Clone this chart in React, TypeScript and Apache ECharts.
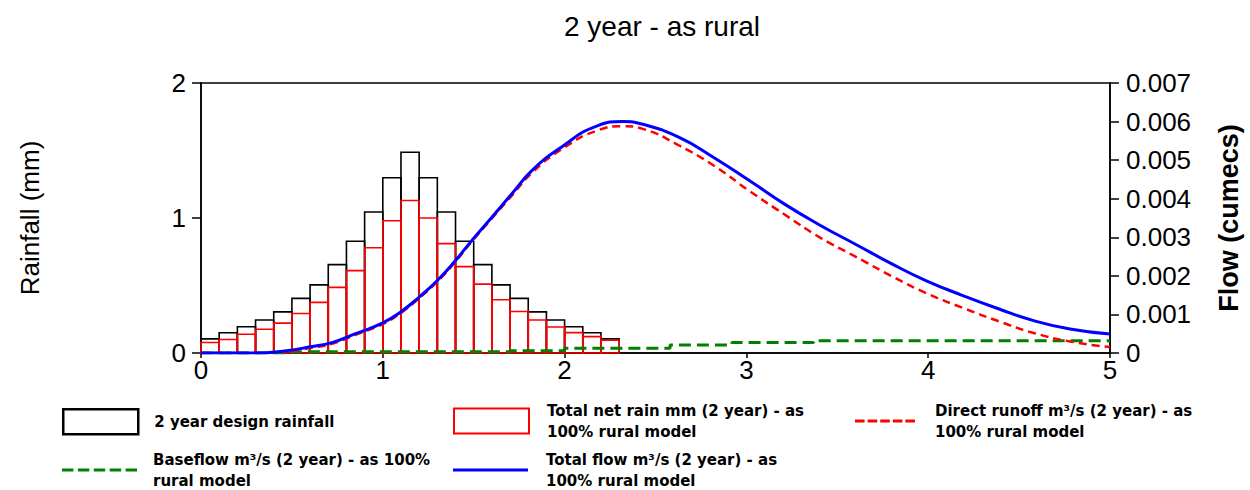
import React, { useEffect, useRef } from "react";
import * as echarts from "echarts";

const chartTitle = "2 year - as rural";
const leftAxisName = "Rainfall (mm)";
const rightAxisName = "Flow (cumecs)";

// Rainfall blocks: start time, end time (hours), depth (mm)
const blockStart = [0, 0.1, 0.2, 0.3, 0.4, 0.5, 0.6, 0.7, 0.8, 0.9, 1.0, 1.1, 1.2, 1.3, 1.4, 1.5, 1.6, 1.7, 1.8, 1.9, 2.0, 2.1, 2.2];
const blockEnd = [0.1, 0.2, 0.3, 0.4, 0.5, 0.6, 0.7, 0.8, 0.9, 1.0, 1.1, 1.2, 1.3, 1.4, 1.5, 1.6, 1.7, 1.8, 1.9, 2.0, 2.1, 2.2, 2.3];
const designRainfall = [0.105, 0.15, 0.195, 0.245, 0.305, 0.405, 0.505, 0.655, 0.828, 1.045, 1.298, 1.487, 1.298, 1.045, 0.828, 0.655, 0.505, 0.405, 0.305, 0.245, 0.195, 0.15, 0.105];
const netRain = [0.078, 0.1, 0.139, 0.176, 0.221, 0.293, 0.375, 0.486, 0.61, 0.78, 0.98, 1.13, 1.0, 0.81, 0.64, 0.51, 0.395, 0.307, 0.245, 0.193, 0.151, 0.121, 0.094];

// Flow hydrographs (hours, m³/s)
const flowTimes = [0, 0.3, 0.47, 0.6, 0.72, 0.85, 1.0, 1.1, 1.2, 1.3, 1.4, 1.49, 1.6, 1.71, 1.82, 1.98, 2.18, 2.32, 2.43, 2.63, 2.82, 3.02, 3.21, 3.41, 3.6, 3.8, 3.99, 4.19, 4.39, 4.58, 4.78, 5.0];
const totalFlow = [0, 0, 0.00006, 0.00016, 0.00027, 0.0005, 0.00078, 0.00107, 0.00145, 0.00188, 0.0024, 0.00292, 0.00352, 0.00413, 0.00473, 0.00533, 0.00589, 0.006, 0.00593, 0.00559, 0.00507, 0.00446, 0.00386, 0.0033, 0.00282, 0.00231, 0.00187, 0.00149, 0.00114, 0.00084, 0.00062, 0.00049];
const directRunoff = [0, 0, 0.00004, 0.00013, 0.00024, 0.00047, 0.00075, 0.00104, 0.00142, 0.00185, 0.00237, 0.00289, 0.00349, 0.00408, 0.00467, 0.00527, 0.00577, 0.00588, 0.00581, 0.00538, 0.00486, 0.00419, 0.00359, 0.00298, 0.0025, 0.00199, 0.00155, 0.00117, 0.00082, 0.00052, 0.0003, 0.00015];
const baseflowTimes = [0, 0.47, 1.7, 2.0, 2.58, 2.92, 3.37, 5.0];
const baseflow = [0, 0.00003, 0.00006, 0.00012, 0.00021, 0.00027, 0.00032, 0.00032];

const nameRain = "2 year design rainfall";
const nameNet = "Total net rain mm (2 year) - as 100% rural model";
const nameDirect = "Direct runoff m³/s (2 year) - as 100% rural model";
const nameBase = "Baseflow m³/s (2 year) - as 100% rural model";
const nameTotal = "Total flow m³/s (2 year) - as 100% rural model";

const legendLabels: Record<string, string> = {
  [nameRain]: "2 year design rainfall",
  [nameNet]: "Total net rain mm (2 year) - as\n100% rural model",
  [nameDirect]: "Direct runoff m³/s (2 year) - as\n100% rural model",
  [nameBase]: "Baseflow m³/s (2 year) - as 100%\nrural model",
  [nameTotal]: "Total flow m³/s (2 year) - as\n100% rural model",
};

const FONT = "'Liberation Sans', Arial, sans-serif";
const LEG_FONT = "'DejaVu Sans', Tahoma, sans-serif";

// dashed legend glyphs drawn as filled dash rectangles
const redDashIcon = "path://M0,0h9.6v3h-9.6z M12.6,0h9.6v3h-9.6z M25.2,0h9.6v3h-9.6z M37.8,0h9.6v3h-9.6z M50.4,0h9.6v3h-9.6z";
const greenDashIcon = "path://M0,0h11.4v3h-11.4z M15.9,0h11.4v3h-11.4z M31.8,0h11.4v3h-11.4z M47.7,0h11.4v3h-11.4z M63.6,0h11.4v3h-11.4z";

function blockSeries(name: string, values: number[], color: string, z: number) {
  return {
    name,
    type: "custom",
    yAxisIndex: 0,
    z,
    encode: { x: [0, 1], y: 2 },
    itemStyle: { color: "#fff", borderColor: color },
    data: values.map((v, i) => [blockStart[i], blockEnd[i], v]),
    renderItem: (params: any, api: any) => {
      const p0 = api.coord([api.value(0), api.value(2)]);
      const p1 = api.coord([api.value(1), 0]);
      return {
        type: "rect",
        shape: { x: p0[0], y: p0[1], width: p1[0] - p0[0], height: p1[1] - p0[1] },
        style: { fill: "none", stroke: color, lineWidth: 1.6 },
      };
    },
  };
}

function legendBox(name: string, left: number, top: number, itemWidth: number, itemHeight: number, pad: number, icon: any) {
  return {
    show: true,
    left,
    top,
    padding: 0,
    orient: "horizontal",
    itemWidth,
    itemHeight,
    selectedMode: false,
    data: [{ name, ...icon }],
    formatter: (n: string) => legendLabels[n] ?? n,
    textStyle: {
      fontFamily: LEG_FONT,
      fontWeight: "bold",
      fontSize: 15,
      lineHeight: 21,
      color: "#000",
      padding: [0, 0, 0, pad],
    },
  };
}

export default function App() {
  const ref = useRef<HTMLDivElement>(null);
  useEffect(() => {
    if (!ref.current) return;
    const chart = echarts.init(ref.current, null, { renderer: "svg" });
    const option: any = {
      animation: false,
      backgroundColor: "#fff",
      title: {
        text: chartTitle,
        left: 657,
        textAlign: "center",
        top: 7,
        textStyle: { fontFamily: FONT, fontWeight: "normal", fontSize: 28, color: "#000" },
      },
      grid: {
        left: 201,
        right: 137,
        top: 83,
        bottom: 137,
        show: true,
        borderColor: "#000",
        borderWidth: 1.5,
        backgroundColor: "transparent",
      },
      legend: [
        legendBox(nameRain, 62, 408, 75, 25, 11, { icon: "rect", itemStyle: { color: "#fff", borderColor: "#000", borderWidth: 2.5 } }),
        legendBox(nameNet, 453, 400, 75, 25, 13, { icon: "rect", itemStyle: { color: "#fff", borderColor: "#ff0000", borderWidth: 2 } }),
        legendBox(nameDirect, 855, 400, 60, 3, 15, { icon: redDashIcon, itemStyle: { color: "#ff0000", borderWidth: 0 } }),
        legendBox(nameBase, 62, 449, 75, 3, 11, { icon: greenDashIcon, itemStyle: { color: "#008000", borderWidth: 0 } }),
        legendBox(nameTotal, 453, 449, 75, 3, 13, { icon: "rect", itemStyle: { color: "#0000ff", borderWidth: 0 } }),
      ],
      xAxis: {
        type: "value",
        min: 0,
        max: 5,
        interval: 1,
        axisLine: { show: true, lineStyle: { color: "#000", width: 1.5 } },
        axisTick: { show: true, length: 5, lineStyle: { color: "#000", width: 1.5 } },
        axisLabel: { margin: 4, fontFamily: FONT, fontSize: 26, color: "#000" },
        splitLine: { show: false },
      },
      yAxis: [
        {
          type: "value",
          min: 0,
          max: 2,
          interval: 1,
          position: "left",
          name: leftAxisName,
          nameLocation: "middle",
          nameRotate: 90,
          nameGap: 158,
          nameTextStyle: { fontFamily: FONT, fontSize: 26, color: "#000" },
          axisLine: { show: true, lineStyle: { color: "#000", width: 1.5 } },
          axisTick: { show: true, length: 9, lineStyle: { color: "#000", width: 1.5 } },
          axisLabel: { margin: 15, fontFamily: FONT, fontSize: 26, color: "#000" },
          splitLine: { show: false },
        },
        {
          type: "value",
          min: 0,
          max: 0.007,
          interval: 0.001,
          position: "right",
          name: rightAxisName,
          nameLocation: "middle",
          nameRotate: 90,
          nameGap: 105,
          nameTextStyle: { fontFamily: FONT, fontSize: 27, fontWeight: "bold", color: "#000" },
          axisLine: { show: true, lineStyle: { color: "#000", width: 1.5 } },
          axisTick: { show: true, length: 9, lineStyle: { color: "#000", width: 1.5 } },
          axisLabel: {
            margin: 16,
            fontFamily: FONT,
            fontSize: 26,
            color: "#000",
            formatter: (v: number) => (v === 0 ? "0" : v.toFixed(3)),
          },
          splitLine: { show: false },
        },
      ],
      series: [
        blockSeries(nameRain, designRainfall, "#000000", 2),
        blockSeries(nameNet, netRain, "#ff0000", 3),
        {
          name: nameBase,
          type: "line",
          yAxisIndex: 1,
          step: "end",
          symbol: "none",
          z: 4,
          itemStyle: { color: "#008000" },
          lineStyle: { color: "#008000", width: 3, type: [12, 6] },
          data: baseflowTimes.map((t, i) => [t, baseflow[i]]),
        },
        {
          name: nameDirect,
          type: "line",
          yAxisIndex: 1,
          symbol: "none",
          smooth: 0.5,
          z: 5,
          itemStyle: { color: "#ff0000" },
          lineStyle: { color: "#ff0000", width: 2.5, type: [8, 5] },
          data: flowTimes.map((t, i) => [t, directRunoff[i]]),
        },
        {
          name: nameTotal,
          type: "line",
          yAxisIndex: 1,
          symbol: "none",
          smooth: 0.5,
          z: 6,
          itemStyle: { color: "#0000ff" },
          lineStyle: { color: "#0000ff", width: 3 },
          data: flowTimes.map((t, i) => [t, totalFlow[i]]),
        },
      ],
    };
    chart.setOption(option);
    return () => chart.dispose();
  }, []);
  return (
    <div
      ref={ref}
      style={{ position: "fixed", left: 0, top: 0, width: 1250, height: 490, background: "#fff" }}
    />
  );
}
